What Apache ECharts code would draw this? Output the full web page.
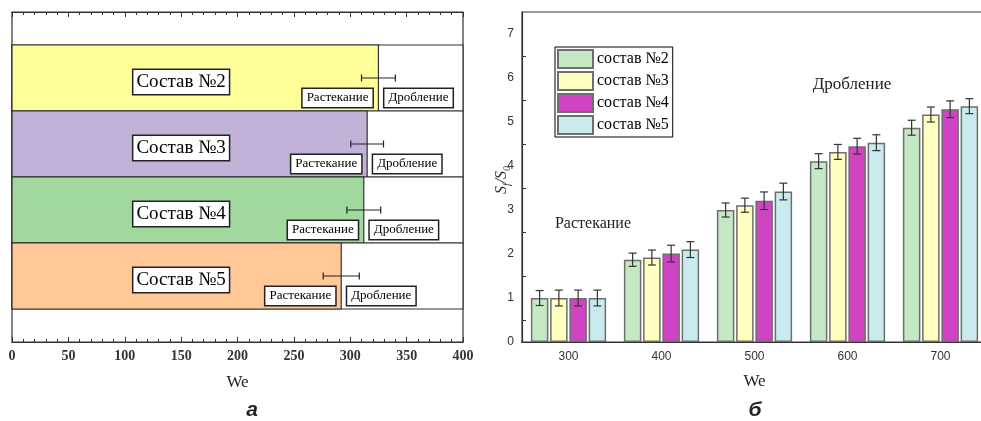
<!DOCTYPE html>
<html><head><meta charset="utf-8">
<script src="https://cdn.jsdelivr.net/npm/echarts@6/dist/echarts.min.js"></script>
<style>html,body{margin:0;padding:0;background:#fff;overflow:hidden;}#c{width:990px;height:421px;}</style>
</head><body><div id="c"></div>
<script>
// ---- Left chart (а) data ----
const leftCompositions = ['Состав №2', 'Состав №3', 'Состав №4', 'Состав №5'];
const leftThresholds = [325, 315, 312, 292];
const leftErrors = [15, 14.5, 15, 16];
const leftColors = ['#FFFF99', '#C2B1D7', '#A1D89E', '#FFC896'];
const leftXTicks = [0, 50, 100, 150, 200, 250, 300, 350, 400];

// ---- Right chart (б) data ----
const weCategories = ['300', '400', '500', '600', '700'];
const seriesNames = ['состав №2', 'состав №3', 'состав №4', 'состав №5'];
const ratio2 = [1.0, 1.87, 3.0, 4.11, 4.87];
const ratio3 = [1.0, 1.92, 3.11, 4.32, 5.17];
const ratio4 = [1.0, 2.01, 3.21, 4.45, 5.29];
const ratio5 = [1.0, 2.10, 3.42, 4.53, 5.36];
const err2 = [0.17, 0.15, 0.16, 0.17, 0.17];
const err3 = [0.18, 0.17, 0.16, 0.17, 0.17];
const err4 = [0.18, 0.19, 0.20, 0.18, 0.19];
const err5 = [0.18, 0.18, 0.19, 0.18, 0.17];
const rightColors = ['#C5E8C5', '#FFFFC0', '#D044C4', '#C9EAEE'];

const ratios = [ratio2, ratio3, ratio4, ratio5];
const errs = [err2, err3, err4, err5];

const chart = echarts.init(document.getElementById('c'));

const leftRows = leftCompositions.map((n, i) => [4 - i, leftThresholds[i], leftErrors[i], i]);

function renderLeftRow(params, api) {
  const yc = api.value(0), thr = api.value(1), err = api.value(2), idx = api.value(3);
  const tl = api.coord([0, yc + 0.5]);
  const br = api.coord([400, yc - 0.5]);
  const thrTop = api.coord([thr, yc + 0.5]);
  const c = api.coord([thr, yc]);
  const e0 = api.coord([thr - err, yc]);
  const e1 = api.coord([thr + err, yc]);
  const lab = api.coord([150, yc]);
  const boxStyle = {fill: '#000', fontFamily: 'Liberation Serif', backgroundColor: '#fff', borderColor: '#222', borderWidth: 1.5};
  return {
    type: 'group',
    children: [
      {type: 'rect', shape: {x: tl[0], y: tl[1], width: br[0] - tl[0], height: br[1] - tl[1]}, style: {fill: '#fff', stroke: '#333', lineWidth: 1.2}},
      {type: 'rect', shape: {x: tl[0], y: tl[1], width: thrTop[0] - tl[0], height: br[1] - tl[1]}, style: {fill: leftColors[idx], stroke: '#333', lineWidth: 1.2}},
      {type: 'line', shape: {x1: e0[0], y1: c[1], x2: e1[0], y2: c[1]}, style: {stroke: '#222', lineWidth: 1.2}},
      {type: 'line', shape: {x1: e0[0], y1: c[1] - 3.5, x2: e0[0], y2: c[1] + 3.5}, style: {stroke: '#222', lineWidth: 1.2}},
      {type: 'line', shape: {x1: e1[0], y1: c[1] - 3.5, x2: e1[0], y2: c[1] + 3.5}, style: {stroke: '#222', lineWidth: 1.2}},
      {type: 'text', x: lab[0], y: lab[1] + 4, style: Object.assign({}, boxStyle, {text: leftCompositions[idx], fontSize: 19, align: 'center', verticalAlign: 'middle', padding: [3, 3, 2, 3]})},
      {type: 'text', x: c[0] - 6, y: c[1] + 20, style: Object.assign({}, boxStyle, {text: 'Растекание', fontSize: 13, align: 'right', verticalAlign: 'middle', padding: [3, 4, 2, 4]})},
      {type: 'text', x: c[0] + 6, y: c[1] + 20, style: Object.assign({}, boxStyle, {text: 'Дробление', fontSize: 13, align: 'left', verticalAlign: 'middle', padding: [3, 4, 2, 4]})}
    ]
  };
}

const errData = [];
ratios.forEach((arr, s) => arr.forEach((v, k) => errData.push([k, v, errs[s][k], s])));

function renderErr(params, api) {
  const k = api.value(0), v = api.value(1), e = api.value(2), s = api.value(3);
  const off = (s - 1.5) * 19.25;
  const hi = api.coord([k, v + e]);
  const lo = api.coord([k, v - e]);
  const x = hi[0] + off;
  const st = {stroke: '#333', lineWidth: 1.2};
  return {type: 'group', children: [
    {type: 'line', shape: {x1: x, y1: hi[1], x2: x, y2: lo[1]}, style: st},
    {type: 'line', shape: {x1: x - 4, y1: hi[1], x2: x + 4, y2: hi[1]}, style: st},
    {type: 'line', shape: {x1: x - 4, y1: lo[1], x2: x + 4, y2: lo[1]}, style: st}
  ]};
}

const axisLineStyle = {lineStyle: {color: '#333', width: 1.2}};

const option = {
  animation: false,
  grid: [
    {left: 12, top: 12, width: 451, height: 330, show: true, borderColor: '#333', borderWidth: 1.2},
    {left: 522, top: 12, width: 465, height: 330, show: true, borderColor: '#333', borderWidth: 1.2}
  ],
  legend: {
    data: seriesNames, orient: 'vertical', left: 555, top: 47,
    itemWidth: 35, itemHeight: 18, itemGap: 2, padding: [2, 4, 2, 2],
    borderColor: '#000', borderWidth: 1, backgroundColor: '#fff',
    icon: 'rect',
    textStyle: {fontFamily: 'Liberation Serif', fontSize: 16, color: '#000', lineHeight: 18, padding: [0, 0, 0, -1]},
    selectedMode: false
  },
  xAxis: [
    {type: 'value', gridIndex: 0, min: 0, max: 400, interval: 50, position: 'bottom',
     axisLine: axisLineStyle, axisTick: {inside: true, length: 5, lineStyle: {color: '#333'}},
     minorTick: {show: true, splitNumber: 5, length: 3, lineStyle: {color: '#333'}},
     splitLine: {show: false},
     axisLabel: {fontFamily: 'Liberation Serif', fontWeight: 'bold', fontSize: 14, color: '#333', margin: 7,
       formatter: v => leftXTicks.indexOf(v) >= 0 ? String(v) : ''},
     name: 'We', nameLocation: 'middle', nameGap: 32,
     nameTextStyle: {fontFamily: 'Liberation Serif', fontSize: 17, color: '#222'}},
    {type: 'value', gridIndex: 0, min: 0, max: 400, interval: 50, position: 'top',
     axisLine: axisLineStyle, axisTick: {inside: true, length: 5, lineStyle: {color: '#333'}},
     minorTick: {show: true, splitNumber: 5, length: 3, lineStyle: {color: '#333'}},
     splitLine: {show: false}, axisLabel: {show: false}},
    {type: 'category', gridIndex: 1, data: weCategories, position: 'bottom',
     axisLine: axisLineStyle, axisTick: {show: false},
     axisLabel: {fontFamily: 'Liberation Sans', fontSize: 12, color: '#333', margin: 9},
     name: 'We', nameLocation: 'middle', nameGap: 31,
     nameTextStyle: {fontFamily: 'Liberation Serif', fontSize: 17, color: '#222'}},
    {type: 'category', gridIndex: 1, data: weCategories, position: 'top',
     axisLine: axisLineStyle, axisTick: {inside: true, alignWithLabel: true, length: 6, lineStyle: {color: '#333'}},
     axisLabel: {show: false}}
  ],
  yAxis: [
    {type: 'value', gridIndex: 0, min: 0, max: 5, show: false},
    {type: 'value', gridIndex: 1, min: 0, max: 7.5, interval: 1, position: 'left',
     axisLine: {show: true, lineStyle: {color: '#333', width: 1.2}},
     axisTick: {inside: true, length: 6, lineStyle: {color: '#333'}},
     minorTick: {show: true, splitNumber: 2, length: 4, lineStyle: {color: '#333'}},
     splitLine: {show: false},
     axisLabel: {fontFamily: 'Liberation Sans', fontSize: 12, color: '#333', margin: 8, showMaxLabel: false}},
    {type: 'value', gridIndex: 1, min: 0, max: 7.5, interval: 1, position: 'right',
     axisLine: {show: true, lineStyle: {color: '#333', width: 1.2}},
     axisTick: {inside: true, length: 8, lineStyle: {color: '#333'}},
     splitLine: {show: false}, axisLabel: {show: false}}
  ],
  series: [
    {type: 'custom', xAxisIndex: 0, yAxisIndex: 0, data: leftRows, renderItem: renderLeftRow, clip: false, z: 2},
    ...seriesNames.map((n, s) => ({
      type: 'bar', name: n, xAxisIndex: 2, yAxisIndex: 1, data: ratios[s],
      barWidth: 17.5, barGap: '10%',
      itemStyle: {color: rightColors[s], borderColor: '#6e6e6e', borderWidth: 1.5}
    })),
    {type: 'custom', xAxisIndex: 2, yAxisIndex: 1, data: errData, renderItem: renderErr, z: 5}
  ],
  graphic: [
    {type: 'text', x: 252, y: 410, style: {text: 'а', fontFamily: 'Liberation Sans', fontStyle: 'italic', fontWeight: 'bold', fontSize: 21, fill: '#222', align: 'center', verticalAlign: 'middle'}},
    {type: 'text', x: 755, y: 410, style: {text: 'б', fontFamily: 'Liberation Sans', fontStyle: 'italic', fontWeight: 'bold', fontSize: 21, fill: '#222', align: 'center', verticalAlign: 'middle'}},
    {type: 'text', x: 852, y: 85, style: {text: 'Дробление', fontFamily: 'Liberation Serif', fontSize: 17, fill: '#222', align: 'center', verticalAlign: 'middle'}},
    {type: 'text', x: 593, y: 224, style: {text: 'Растекание', fontFamily: 'Liberation Serif', fontSize: 16, fill: '#222', align: 'center', verticalAlign: 'middle'}},
    {type: 'text', x: 502, y: 180, rotation: Math.PI / 2,
     style: {text: '{i|S}{s|f}{i|/S}{s|0}', align: 'center', verticalAlign: 'middle',
       rich: {
         i: {fontFamily: 'Liberation Serif', fontStyle: 'italic', fontSize: 16, fill: '#333', lineHeight: 20, verticalAlign: 'middle'},
         s: {fontFamily: 'Liberation Serif', fontStyle: 'italic', fontSize: 10, fill: '#333', lineHeight: 20, verticalAlign: 'bottom', padding: [8, 0, 0, 0]}
       }}}
  ]
};
chart.setOption(option);
</script></body></html>
